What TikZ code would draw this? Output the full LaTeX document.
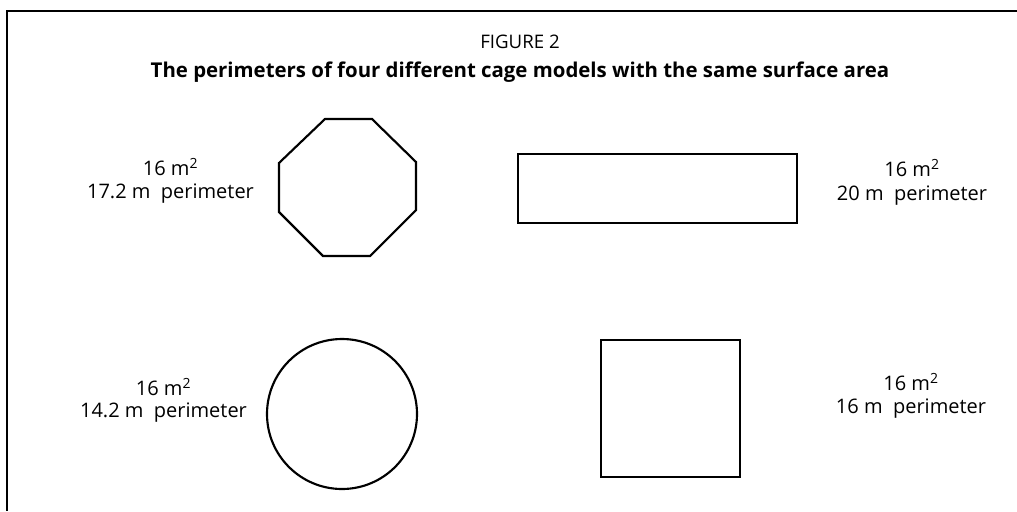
\documentclass[tikz,border=0pt]{standalone}
\usepackage{fontspec}
\setmainfont{Open Sans}
\begin{document}
\begin{tikzpicture}[x=0.75pt,y=-0.75pt,
  lbl/.style={anchor=base,inner sep=0pt,font=\fontsize{15pt}{18pt}\selectfont},
  cageline/.style={draw=black,line width=1.6pt,line join=miter},
  frameline/.style={draw=black,line width=1.1pt}]
\useasboundingbox (0,0) rectangle (1017,511);
% frame
\draw[frameline] (1017,11) -- (7,11) -- (7,511);
% headings
\node[lbl,font=\fontsize{14pt}{17pt}\selectfont] (fig) at (520,48) {FIGURE 2};
\node[lbl,font=\fontsize{15.3pt}{18pt}\selectfont\bfseries] (title) at (520,77) {The perimeters of four different cage models with the same surface area};
% octagon
\draw[cageline] (325,119) -- (372,119) -- (416,162) -- (416,210) -- (370,256) -- (323,256) -- (279,212) -- (279,163) -- cycle;
% rectangle
\draw[cageline] (518,154) rectangle (797,223);
% circle
\draw[cageline] (342,414) circle [radius=75];
% square
\draw[cageline] (601,340) rectangle (740,477);
% labels
\node[lbl] (tla) at (170.5,175) {16 m\textsuperscript{2}};
\node[lbl] (tlb) at (170.5,198) {17.2 m\ \ perimeter};
\node[lbl] (tra) at (912,176) {16 m\textsuperscript{2}};
\node[lbl] (trb) at (912,200) {20 m\ \ perimeter};
\node[lbl] (bla) at (163.5,395) {16 m\textsuperscript{2}};
\node[lbl] (blb) at (163.5,417) {14.2 m\ \ perimeter};
\node[lbl] (bra) at (911,390) {16 m\textsuperscript{2}};
\node[lbl] (brb) at (911,413) {16 m\ \ perimeter};
\end{tikzpicture}
\end{document}
